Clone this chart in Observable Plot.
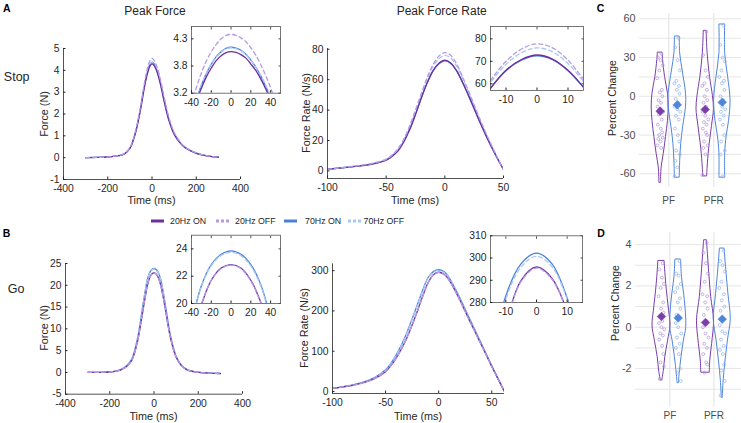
<!DOCTYPE html>
<html><head><meta charset="utf-8">
<script src="https://cdn.jsdelivr.net/npm/d3@7"></script>
<script src="https://cdn.jsdelivr.net/npm/@observablehq/plot@0.6"></script>
<style>
html,body{margin:0;padding:0;background:#fff;overflow:hidden}
#fig{position:relative;width:741px;height:423px;overflow:hidden;font-family:"Liberation Sans",Arial,sans-serif;color:#262626;background:#fff}
.lbl{position:absolute;white-space:nowrap;transform:translate(-50%,-50%);line-height:1}
.rot{transform:translate(-50%,-50%) rotate(-90deg)}
.leg{position:absolute;white-space:nowrap;font-size:8.8px;line-height:1;transform:translateY(-50%)}
</style></head><body><div id="fig"></div>
<script>
// ---------------- DATA ----------------
const seriesNames = ["20Hz ON", "20Hz OFF", "70Hz ON", "70Hz OFF"];

// Stop trials — Peak Force (N)
const forceTime = [-300,-250,-200,-175,-150,-125,-100,-75,-50,-40,-30,-20,-10,0,10,20,30,40,50,75,100,125,150,200,250,300];
const stopForce20On  = [0,0.01,0.03,0.06,0.09,0.17,0.42,1.12,2.3,2.9,3.45,3.88,4.18,4.3,4.22,4.0,3.68,3.28,2.8,1.75,1.08,0.7,0.45,0.2,0.08,0.02];
const stopForce20Off = [0,0.01,0.03,0.06,0.1,0.19,0.46,1.2,2.45,3.08,3.66,4.12,4.43,4.55,4.46,4.24,3.92,3.5,3.02,1.9,1.16,0.75,0.48,0.22,0.09,0.02];
const stopForce70On  = [0,0.01,0.03,0.06,0.09,0.18,0.44,1.15,2.36,2.96,3.52,3.95,4.26,4.37,4.29,4.07,3.76,3.36,2.88,1.8,1.1,0.71,0.46,0.21,0.08,0.02];
const stopForce70Off = [0,0.01,0.03,0.06,0.1,0.19,0.46,1.18,2.4,3.0,3.55,3.97,4.25,4.35,4.28,4.07,3.78,3.4,2.94,1.86,1.14,0.74,0.48,0.22,0.09,0.02];

// Stop trials — Peak Force, zoomed inset
const stopForceZoomTime = [-40,-35,-30,-25,-20,-15,-10,-5,0,5,10,15,20,25,30,35,40,45,50];
const stopForceZoom20On  = [2.73,3.04,3.30,3.53,3.71,3.86,3.96,4.02,4.04,4.025,3.98,3.91,3.79,3.66,3.49,3.29,3.06,2.8,2.5];
const stopForceZoom20Off = [3.0,3.32,3.61,3.85,4.04,4.19,4.30,4.37,4.39,4.37,4.32,4.24,4.12,3.97,3.78,3.56,3.31,3.02,2.70];
const stopForceZoom70On  = [2.76,3.08,3.36,3.60,3.79,3.94,4.04,4.11,4.13,4.11,4.07,3.99,3.87,3.73,3.55,3.34,3.10,2.83,2.52];
const stopForceZoom70Off = [2.78,3.09,3.36,3.6,3.79,3.93,4.03,4.1,4.12,4.1,4.06,3.98,3.87,3.73,3.56,3.36,3.13,2.87,2.58];
const stopForceZoomTicks = [3.2, 3.75, 4.3];
const stopForceZoomTickLabels = ["3.2", "3.8", "4.3"];

// Stop trials — Peak Force Rate (N/s)
const stopRateTime = [-100,-90,-80,-70,-60,-50,-45,-40,-35,-30,-25,-20,-15,-10,-5,0,5,10,15,20,25,30,35,40,45,50];
const stopRate20On  = [1,1.8,2.6,3.5,4.8,7,9.5,13,19,27,37,48,58,66,70.8,72.8,71,66,58.5,50,41,32,23.5,15.5,8,1];
const stopRate20Off = [1,1.9,2.8,3.8,5.2,7.6,10.3,14.3,20.7,29.5,40,51,61.5,70,75.5,77.8,76,70.5,62,53,43.5,34,25,16.5,8.5,0.5];
const stopRate70On  = [1.1,1.9,2.7,3.6,5,7.3,9.9,13.5,19.5,27.5,37.5,48.3,58,65.8,70.5,72.4,70.7,65.8,58.3,49.8,40.8,31.8,23.3,15.3,7.8,0.8];
const stopRate70Off = [1.1,2,2.9,3.9,5.3,7.8,10.5,14.5,20.7,29.2,39.5,50.2,60.5,68.7,73.8,76,74.2,69,61,52,42.6,33.2,24.4,16,8.2,0.5];

// Go trials — Peak Force (N)
const goForce20On  = [0,0.02,0.1,0.25,0.6,1.3,2.8,7,14.2,17.2,19.9,21.7,22.6,22.85,22.6,21.7,20.1,17.7,14.9,7.8,3.5,1.5,0.6,0,-0.15,-0.25];
const goForce20Off = [0,0.02,0.1,0.25,0.6,1.3,2.85,7.1,14.3,17.3,19.95,21.7,22.55,22.8,22.55,21.65,20.05,17.7,14.9,7.8,3.5,1.5,0.6,0,-0.15,-0.25];
const goForce70On  = [0,0.02,0.1,0.28,0.65,1.45,3.1,7.7,15.4,18.6,21.3,22.85,23.6,23.85,23.6,22.85,21.4,18.9,15.9,8.3,3.7,1.6,0.65,0.05,-0.15,-0.25];
const goForce70Off = [0,0.02,0.1,0.28,0.65,1.45,3.1,7.7,15.35,18.55,21.25,22.78,23.52,23.75,23.5,22.75,21.3,18.8,15.8,8.25,3.7,1.6,0.65,0.05,-0.15,-0.25];

// Go trials — Peak Force Rate (N/s)
const goRateTime = [-100,-90,-80,-70,-60,-50,-45,-40,-35,-30,-25,-20,-15,-10,-5,0,5,10,15,20,25,30,35,40,45,50,55,60,62];
const goRate20On  = [7.5,11.5,16,22.5,32.5,49,64,83,106,133,165,200,237,270,290,296,291,276,253,227,199,171,144,117,90,62,36,10,0];
const goRate20Off = [7.5,11.5,16,22.5,32.5,49,64,83,106,133,165,199.5,236.5,269,289.5,295.5,290.5,275.5,252.5,226.5,198.5,170.5,143.5,116.5,89.5,61.5,35.5,9.5,0];
const goRate70On  = [8,12,17,24,35,54,70,91,116,146,180,216,252,283,297.5,302.2,297.5,282,258,232,204,176,148,120,92,64,37,10,0];
const goRate70Off = [8,12,17,24,34.5,53,69,89.5,114.5,144.5,178.5,214.5,250.5,281.5,296,300.8,296.2,281.5,257,231,203,175,147,119,91,63,36,9.5,0];

// Percent change panels
const measures = ["PF", "PFR"];
const freqs = ["20Hz", "70Hz"];
// C (Stop)
const stopPF20Points  = [33,30,28,24,20,14,5,3,0,-3,-5,-8,-10,-12,-14,-18,-22,-25,-28,-30,-32,-33,-35,-38,-40,-65];
const stopPF70Points  = [45,38,28,20,12,10,8,5,2,-2,-5,-8,-10,-12,-15,-18,-25,-30,-35,-42,-45,-50,-55,-62];
const stopPFR20Points = [50,32,20,15,10,8,5,0,-3,-5,-8,-12,-15,-18,-20,-22,-25,-28,-30,-35,-38,-40,-45,-61];
const stopPFR70Points = [55,40,30,27,20,15,12,10,5,0,-3,-5,-8,-10,-12,-15,-18,-22,-30,-35,-42,-45,-62];
const stopMeans = [-11.5, -6.6, -10.2, -4.6]; // PF20, PF70, PFR20, PFR70
const stopPF20Levels  = [33.5,28,15,2,-8,-19,-31.5,-44.5,-55,-67];
const stopPF20Dens    = [0.25,0.3,0.5,0.8,0.88,0.8,0.6,0.37,0.15,0.08];
const stopPF70Levels  = [46,33,20,2,-8,-24,-37,-50,-63];
const stopPF70Dens    = [0.25,0.3,0.55,0.9,0.9,0.6,0.4,0.3,0.25];
const stopPFR20Levels = [50.4,33,15,0,-10,-23,-41,-55,-62];
const stopPFR20Dens   = [0.15,0.25,0.5,0.8,0.9,0.7,0.4,0.25,0.2];
const stopPFR70Levels = [55.3,33,15,-3,-19,-31,-44,-63];
const stopPFR70Dens   = [0.3,0.3,0.6,0.85,0.7,0.45,0.3,0.3];
const stopTicks = [-60,-30,0,30,60];
const stopGrid = [-60,-45,-30,-15,0,15,30,45,60];
// D (Go)
const goPF20Points  = [3.1,2.8,2.4,2.1,1.9,1.5,1.2,0.9,0.7,0.5,0.3,0.2,0.0,-0.1,-0.3,-0.4,-0.6,-0.9,-1.3,-1.7,-1.9,-2.5];
const goPF70Points  = [3.2,2.6,2.5,2.1,1.9,1.7,1.4,1.2,0.9,0.6,0.4,0.2,0.0,-0.3,-0.5,-0.8,-1.0,-1.3,-2.0,-2.2,-2.6];
const goPFR20Points = [4.1,3.6,3.1,2.6,2.2,1.6,1.5,1.2,0.9,0.6,0.3,0.0,-0.3,-0.5,-0.8,-1.0,-1.3,-1.7,-1.8,-2.2];
const goPFR70Points = [3.7,3.2,3.0,2.7,2.2,1.9,1.6,1.3,1.0,0.8,0.4,0.1,-0.2,-0.3,-0.6,-0.9,-1.1,-1.3,-1.8,-2.1,-2.6,-3.3];
const goMeans = [0.52, 0.45, 0.23, 0.39];
const goPF20Levels  = [3.19,2.1,0.8,0.08,-0.65,-1.45,-2.1,-2.58];
const goPF20Dens    = [0.33,0.5,0.8,0.95,0.7,0.4,0.25,0.08];
const goPF70Levels  = [3.26,2.42,1.29,0,-0.64,-1.45,-2.26,-2.71];
const goPF70Dens    = [0.3,0.4,0.7,0.85,0.6,0.35,0.15,0.07];
const goPFR20Levels = [4.19,3.55,2.58,1.45,0.32,-0.8,-1.61,-2.2];
const goPFR20Dens   = [0.15,0.25,0.4,0.6,0.9,0.7,0.5,0.45];
const goPFR70Levels = [3.79,2.9,1.61,0.4,-0.64,-1.61,-2.58,-3.42];
const goPFR70Dens   = [0.25,0.4,0.65,0.9,0.6,0.35,0.15,0.05];
const goTicks = [-2,0,2,4];
const goGrid = [-3,-2,-1,0,1,2,3,4];
// horizontal spread of the individual subject points (fraction of spread width)
const jitter = [0.3,-0.5,0.1,0.6,-0.2,-0.7,0.4,-0.1,0.5,-0.4,0.2,-0.6,0.0,0.7,-0.3,0.35,-0.55,0.15,0.45,-0.25,0.6,-0.45,0.05,-0.65,0.25,-0.15];

// ---------------- STYLE ----------------
const COLORS = {"20Hz ON":"#6E2E9E","20Hz OFF":"#B59BE3","70Hz ON":"#4A80D6","70Hz OFF":"#A6C8F5"};
const DASH = {"20Hz ON":null,"20Hz OFF":"4,3","70Hz ON":null,"70Hz OFF":"4,3"};
const drawOrder = ["70Hz ON","70Hz OFF","20Hz ON","20Hz OFF"];
const VCOL = {"20Hz":"#7A3DAA","70Hz":"#4F86DA"};
const PCOL = {"20Hz":"#B094D8","70Hz":"#90B2EA"};
const FONT = "Liberation Sans, Arial, sans-serif";

const fig = document.getElementById("fig");
function place(el, left, top) {
  el.style.position = "absolute"; el.style.left = left + "px"; el.style.top = top + "px";
  fig.appendChild(el);
}
function text(str, x, y, size, extra = "", cls = "lbl") {
  const d = document.createElement("div");
  d.className = cls; d.textContent = str;
  d.style.left = x + "px"; d.style.top = y + "px"; d.style.fontSize = size + "px";
  if (extra) d.style.cssText += extra;
  fig.appendChild(d);
}
function table(time, arrays) {
  return seriesNames.flatMap((name, k) => time.map((t, i) => ({t, v: arrays[k][i], s: name})));
}

function linePanel(cfg) {
  const {box, frame, xDomain, yDomain, xTicks, yTicks, yLabels, data, inset} = cfg;
  const [L, T, W, H] = box, [x0, y0, x1, y1] = frame;
  const fmtY = yLabels ? (d => yLabels[yTicks.indexOf(d)]) : (d => String(d));
  const marks = [];
  if (inset) marks.push(Plot.frame({fill: "white", stroke: "none"}));
  for (const name of drawOrder) {
    const o = {x: "t", y: "v", stroke: COLORS[name], strokeWidth: 1.3, curve: "catmull-rom", clip: true};
    if (DASH[name]) o.strokeDasharray = DASH[name];
    marks.push(Plot.line(data.filter(d => d.s === name), o));
  }
  if (inset) {
    marks.push(Plot.frame({stroke: "#555", strokeWidth: 0.8}));
    marks.push(Plot.axisX({anchor: "top", ticks: xTicks, tickSize: -2.5, tickFormat: () => "", label: null, stroke: "#555"}));
    marks.push(Plot.axisY({anchor: "right", ticks: yTicks, tickSize: -2.5, tickFormat: () => "", label: null, stroke: "#555"}));
  } else {
    marks.push(Plot.ruleX([xDomain[0]], {stroke: "#262626", strokeWidth: 0.8}));
    marks.push(Plot.ruleY([yDomain[0]], {stroke: "#262626", strokeWidth: 0.8}));
  }
  marks.push(Plot.axisX({ticks: xTicks, tickSize: -2.5, tickPadding: 7.5, tickFormat: d => String(d), label: null}));
  marks.push(Plot.axisY({ticks: yTicks, tickSize: -2.5, tickPadding: 6.5, tickFormat: fmtY, label: null}));
  const svg = Plot.plot({
    width: W, height: H,
    marginLeft: x0 - L, marginRight: L + W - x1, marginTop: y0 - T, marginBottom: T + H - y1,
    x: {domain: xDomain}, y: {domain: yDomain},
    style: {fontFamily: FONT, fontSize: "10.3px", color: "#262626", background: "transparent", overflow: "visible"},
    marks
  });
  place(svg, L, T);
}

function violinPanel(cfg) {
  const {box, frame, xDomain, yDomain, ticks, grid, groups, means} = cfg;
  const [L, T, W, H] = box, [x0, y0, x1, y1] = frame;
  const off = 0.19, vmax = 0.215, spread = 0.095;
  const marks = [
    Plot.ruleY(grid, {stroke: "#e6e6e6", strokeWidth: 1}),
    Plot.ruleX([1, 2], {stroke: "#e6e6e6", strokeWidth: 1.2})
  ];
  groups.forEach((g, gi) => {
    const c = (measures.indexOf(g.m) + 1) + (g.f === "20Hz" ? -off : off);
    const outline = g.levels.map((y, i) => ({y, a: c - g.dens[i] * vmax, b: c + g.dens[i] * vmax}));
    marks.push(Plot.areaX(outline, {y: "y", x1: "a", x2: "b", fill: "none", stroke: VCOL[g.f], strokeWidth: 1, curve: "catmull-rom"}));
    const pts = g.points.map((y, i) => ({y, x: c + jitter[i % jitter.length] * spread}));
    marks.push(Plot.dot(pts, {x: "x", y: "y", r: 1.45, stroke: PCOL[g.f], strokeWidth: 0.7, fill: "none"}));
    marks.push(Plot.dot([{x: c, y: means[gi]}], {x: "x", y: "y", symbol: "diamond2", r: 3.9, fill: VCOL[g.f], stroke: VCOL[g.f], strokeWidth: 0.5}));
  });
  marks.push(Plot.axisY({ticks, tickSize: 0, tickPadding: 4, tickFormat: d => String(d), label: null, fontSize: 10.8}));
  marks.push(Plot.axisX({ticks: [1, 2], tickSize: 0, tickPadding: cfg.xPad, tickFormat: d => measures[d - 1], label: null, fontSize: 10}));
  const svg = Plot.plot({
    width: W, height: H,
    marginLeft: x0 - L, marginRight: L + W - x1, marginTop: y0 - T, marginBottom: T + H - y1,
    x: {type: "linear", domain: xDomain}, y: {domain: yDomain},
    style: {fontFamily: FONT, fontSize: "10.5px", color: "#4d4d4d", background: "transparent", overflow: "visible"},
    marks
  });
  place(svg, L, T);
}

// ---------------- PANELS ----------------
// A: Stop
linePanel({box: [0, 30, 250, 180], frame: [63, 48, 240, 179], xDomain: [-400, 400], yDomain: [-1, 5],
  xTicks: [-400, -200, 0, 200, 400], yTicks: [-1, 0, 1, 2, 3, 4, 5],
  data: table(forceTime, [stopForce20On, stopForce20Off, stopForce70On, stopForce70Off])});
linePanel({box: [160, 15, 130, 100], frame: [191, 26, 280, 92.7], xDomain: [-40, 50], yDomain: [3.2, 4.55],
  xTicks: [-40, -20, 0, 20, 40], yTicks: stopForceZoomTicks, yLabels: stopForceZoomTickLabels, inset: true,
  data: table(stopForceZoomTime, [stopForceZoom20On, stopForceZoom20Off, stopForceZoom70On, stopForceZoom70Off])});
linePanel({box: [290, 30, 225, 180], frame: [327, 48, 503, 178], xDomain: [-100, 50], yDomain: [-5, 80.5],
  xTicks: [-100, -50, 0, 50], yTicks: [0, 20, 40, 60, 80],
  data: table(stopRateTime, [stopRate20On, stopRate20Off, stopRate70On, stopRate70Off])});
linePanel({box: [465, 15, 125, 100], frame: [490, 26, 583, 90], xDomain: [-15, 15], yDomain: [57, 85.5],
  xTicks: [-10, 0, 10], yTicks: [60, 70, 80], inset: true,
  data: table(stopRateTime, [stopRate20On, stopRate20Off, stopRate70On, stopRate70Off])});
// B: Go
linePanel({box: [0, 245, 250, 178], frame: [65, 263, 242, 393.7], xDomain: [-400, 400], yDomain: [-5, 25],
  xTicks: [-400, -200, 0, 200, 400], yTicks: [-5, 0, 5, 10, 15, 20, 25],
  data: table(forceTime, [goForce20On, goForce20Off, goForce70On, goForce70Off])});
linePanel({box: [160, 225, 130, 100], frame: [191, 234.7, 280, 303], xDomain: [-40, 50], yDomain: [20, 25],
  xTicks: [-40, -20, 0, 20, 40], yTicks: [20, 22, 24], inset: true,
  data: table(forceTime, [goForce20On, goForce20Off, goForce70On, goForce70Off])});
linePanel({box: [290, 245, 225, 178], frame: [332, 263.3, 504, 393], xDomain: [-100, 62], yDomain: [-5, 317],
  xTicks: [-100, -50, 0, 50], yTicks: [0, 100, 200, 300],
  data: table(goRateTime, [goRate20On, goRate20Off, goRate70On, goRate70Off])});
linePanel({box: [465, 225, 125, 100], frame: [490, 235.3, 582, 302], xDomain: [-15, 15], yDomain: [280, 310],
  xTicks: [-10, 0, 10], yTicks: [280, 290, 300, 310], inset: true,
  data: table(goRateTime, [goRate20On, goRate20Off, goRate70On, goRate70Off])});

// C: Stop percent change
violinPanel({box: [600, 0, 145, 212], frame: [639, 13, 742.5, 187], xDomain: [0.35, 2.65], yDomain: [-70.6, 64.1],
  ticks: stopTicks, grid: stopGrid, means: stopMeans, xPad: 9,
  groups: [
    {m: "PF", f: "20Hz", levels: stopPF20Levels, dens: stopPF20Dens, points: stopPF20Points},
    {m: "PF", f: "70Hz", levels: stopPF70Levels, dens: stopPF70Dens, points: stopPF70Points},
    {m: "PFR", f: "20Hz", levels: stopPFR20Levels, dens: stopPFR20Dens, points: stopPFR20Points},
    {m: "PFR", f: "70Hz", levels: stopPFR70Levels, dens: stopPFR70Dens, points: stopPFR70Points}]});
// D: Go percent change
violinPanel({box: [600, 212, 145, 211], frame: [635, 231.7, 742, 406.7], xDomain: [0.22, 2.65], yDomain: [-3.87, 4.6],
  ticks: goTicks, grid: goGrid, means: goMeans, xPad: 4.5,
  groups: [
    {m: "PF", f: "20Hz", levels: goPF20Levels, dens: goPF20Dens, points: goPF20Points},
    {m: "PF", f: "70Hz", levels: goPF70Levels, dens: goPF70Dens, points: goPF70Points},
    {m: "PFR", f: "20Hz", levels: goPFR20Levels, dens: goPFR20Dens, points: goPFR20Points},
    {m: "PFR", f: "70Hz", levels: goPFR70Levels, dens: goPFR70Dens, points: goPFR70Points}]});

// ---------------- TEXT ----------------
text("A", 6.7, 7.5, 10.5, "font-weight:bold;color:#000");
text("B", 6.5, 233, 10.5, "font-weight:bold;color:#000");
text("C", 600.5, 7.5, 10.5, "font-weight:bold;color:#000");
text("D", 601, 233, 10.5, "font-weight:bold;color:#000");
text("Peak Force", 155, 10.5, 12);
text("Peak Force Rate", 441.7, 10.5, 12);
text("Stop", 16.7, 76.5, 12.5);
text("Go", 16, 289, 12.5);
text("Force (N)", 44, 113.5, 10.8, "", "lbl rot");
text("Force Rate (N/s)", 305.5, 112.5, 10.8, "", "lbl rot");
text("Force (N)", 44, 328, 10.8, "", "lbl rot");
text("Force Rate (N/s)", 304, 328, 10.8, "", "lbl rot");
text("Time (ms)", 151.5, 200, 10.8);
text("Time (ms)", 415, 200, 10.8);
text("Time (ms)", 153.5, 415.5, 10.8);
text("Time (ms)", 418, 415.5, 10.8);
text("Percent Change", 611.7, 97.5, 10.5, "color:#262626", "lbl rot");
text("Percent Change", 615, 302.5, 10.5, "color:#262626", "lbl rot");

// legend
const legendX = [[151, 170], [216, 235], [284, 305], [348, 363.5]];
seriesNames.forEach((name, i) => {
  const [sx, tx] = legendX[i];
  const ns = "http://www.w3.org/2000/svg";
  const s = document.createElementNS(ns, "svg");
  s.setAttribute("width", 14); s.setAttribute("height", 6);
  s.style.position = "absolute"; s.style.left = sx + "px"; s.style.top = "218px";
  const ln = document.createElementNS(ns, "line");
  ln.setAttribute("x1", 0); ln.setAttribute("x2", 13); ln.setAttribute("y1", 3); ln.setAttribute("y2", 3);
  ln.setAttribute("stroke", COLORS[name]); ln.setAttribute("stroke-width", 3);
  if (DASH[name]) ln.setAttribute("stroke-dasharray", "3,2");
  s.appendChild(ln); fig.appendChild(s);
  const d = document.createElement("div");
  d.className = "leg"; d.textContent = name; d.style.left = tx + "px"; d.style.top = "221px";
  fig.appendChild(d);
});
</script></body></html>
